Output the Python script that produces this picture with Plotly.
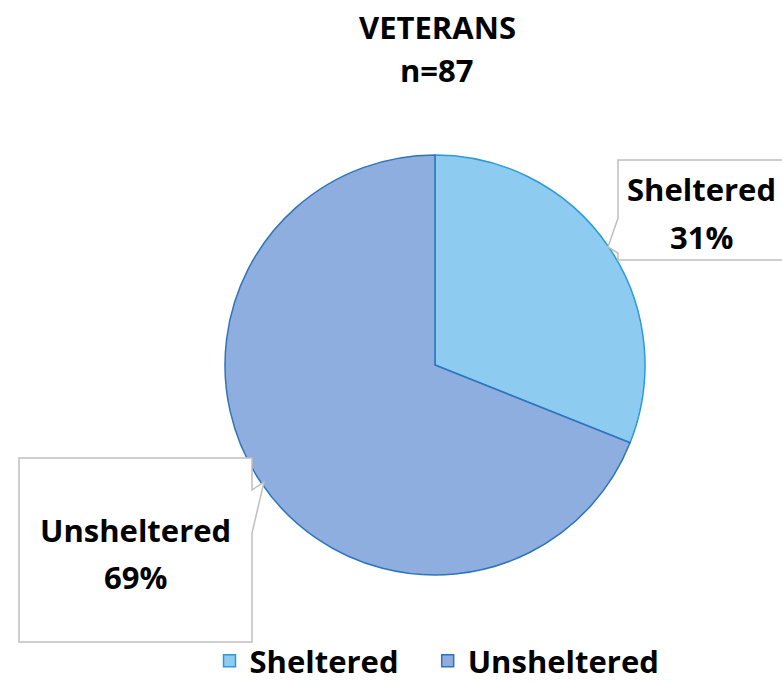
import plotly.graph_objects as go

labels = ["Sheltered", "Unsheltered"]
values = [27, 60]
pct_text = ["31%", "69%"]
title_lines = ["VETERANS", "n=87"]

W, H = 782, 682
def px(x): return x / W
def py(y): return 1 - y / H

FONT = "Open Sans"
FS = 31
fill_colors = ["#8ecbf0", "#8eaee0"]
line_colors = ["#2a9ad8", "#2e74b8"]

legend_labels = ["<b>Sheltered</b>&nbsp;&nbsp;&nbsp;", "<b>Unsheltered</b>"]

fig = go.Figure(go.Pie(
    labels=legend_labels, values=values, sort=False,
    direction="clockwise", rotation=0,
    marker=dict(colors=fill_colors, line=dict(color=line_colors, width=1.5)),
    textinfo="none", hoverinfo="percent", text=labels,
    domain=dict(x=[px(435 - 210), px(435 + 210)], y=[py(575), py(155)]),
))

shapes = [
    dict(type="path", xref="paper", yref="paper",
         path=f"M {px(618)},{py(160)} L {px(618)},{py(218)} L {px(608)},{py(247)} L {px(618)},{py(253)} "
              f"L {px(618)},{py(260)} L {px(800)},{py(260)} L {px(800)},{py(160)} Z",
         line=dict(color="#bfbfbf", width=1.5), fillcolor="white", layer="above"),
    dict(type="path", xref="paper", yref="paper",
         path=f"M {px(19)},{py(458)} L {px(252)},{py(458)} L {px(252)},{py(490)} L {px(264)},{py(482)} "
              f"L {px(252)},{py(533)} L {px(252)},{py(642)} L {px(19)},{py(642)} Z",
         line=dict(color="#bfbfbf", width=1.5), fillcolor="white", layer="above"),
]

def txt(s, x, y):
    return dict(text=f"<b>{s}</b>", x=px(x), y=py(y), xref="paper", yref="paper",
                xanchor="center", yanchor="middle", showarrow=False,
                font=dict(family=FONT, size=FS, color="black"))

annotations = [
    txt(labels[0], 701, 189), txt(pct_text[0], 701, 237),
    txt(labels[1], 135, 530), txt(pct_text[1], 135, 577),
    txt(title_lines[0], 437, 27), txt(title_lines[1], 437, 70),
]

fig.update_layout(
    width=W, height=H, margin=dict(l=0, r=0, t=0, b=0, autoexpand=False),
    paper_bgcolor="white", plot_bgcolor="white",
    shapes=shapes, annotations=annotations,
    showlegend=True,
    legend=dict(orientation="h", x=px(437), xanchor="center", y=py(661), yanchor="middle",
                font=dict(family=FONT, size=FS, color="black"),
                bgcolor="rgba(0,0,0,0)"),
)

post = """
document.documentElement.style.margin='0';
document.body.style.margin='0';
"""
fig.write_html("out.html", post_script=post, config={"displayModeBar": False})
